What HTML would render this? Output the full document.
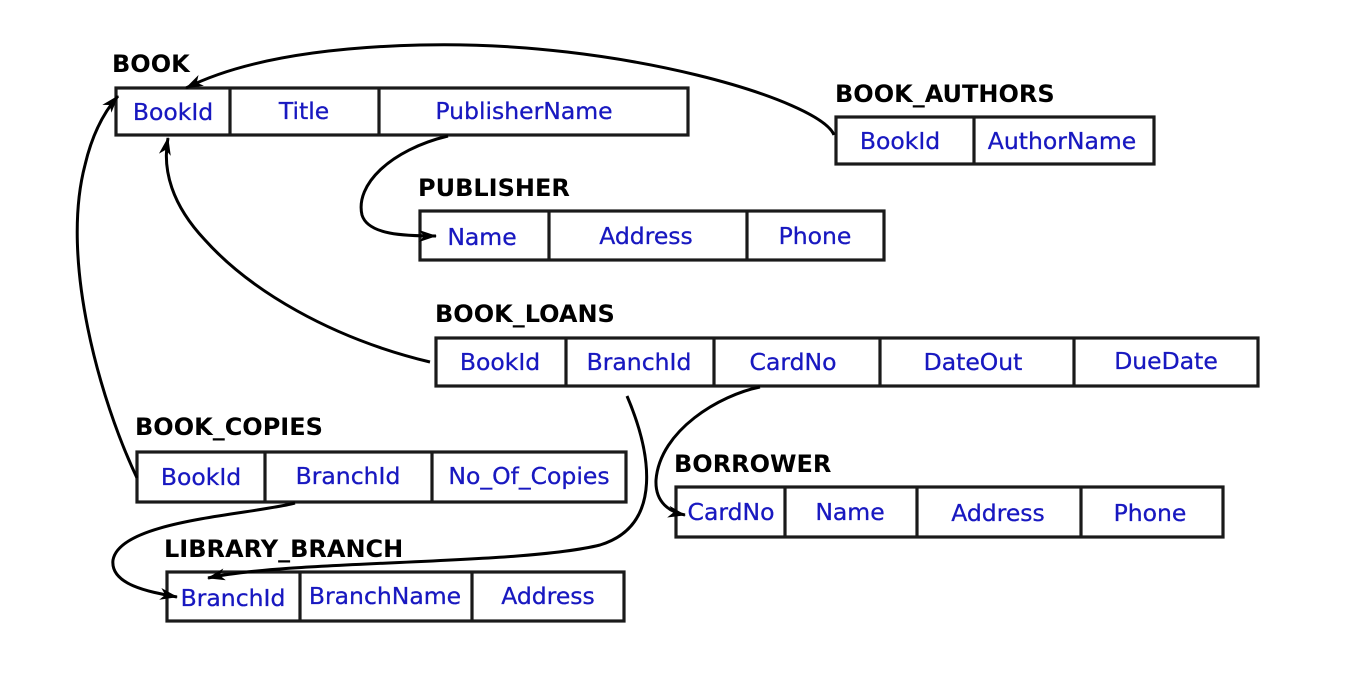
<!DOCTYPE html>
<html><head><meta charset="utf-8"><style>
html,body{margin:0;padding:0;background:#fff;}
svg{display:block;}
.lbl{font-family:"DejaVu Sans","Liberation Sans",sans-serif;font-weight:bold;font-size:24px;fill:#000;}
.c{font-family:"DejaVu Sans","Liberation Sans",sans-serif;font-size:23.5px;fill:#1818c0;text-anchor:middle;stroke:#1818c0;stroke-width:0.3;}
.b{fill:#fff;stroke:#1a1a1a;stroke-width:3.2;}
.l{stroke:#1a1a1a;stroke-width:3.2;}
.p{fill:none;stroke:#000;stroke-width:3;}
</style></head><body>
<svg width="1350" height="684" viewBox="0 0 1350 684" xmlns="http://www.w3.org/2000/svg">
<defs><marker id="a" viewBox="0 0 18 12" refX="17" refY="6" markerWidth="18" markerHeight="12" orient="auto" markerUnits="userSpaceOnUse"><path d="M0,0 L18,6 L0,12 L5,6 z" fill="#000"/></marker></defs>

<text class="lbl" x="112" y="72">BOOK</text>
<rect class="b" x="116" y="88" width="572" height="47"/>
<line class="l" x1="230" y1="88" x2="230" y2="135"/><line class="l" x1="379" y1="88" x2="379" y2="135"/>
<text class="c" x="173" y="120">BookId</text><text class="c" x="304" y="119">Title</text><text class="c" x="524" y="119">PublisherName</text>

<text class="lbl" x="835" y="102">BOOK_AUTHORS</text>
<rect class="b" x="836" y="117" width="318" height="47"/>
<line class="l" x1="974" y1="117" x2="974" y2="164"/>
<text class="c" x="900" y="149">BookId</text><text class="c" x="1062" y="149">AuthorName</text>

<text class="lbl" x="418" y="196">PUBLISHER</text>
<rect class="b" x="420" y="211" width="464" height="49"/>
<line class="l" x1="549" y1="211" x2="549" y2="260"/><line class="l" x1="747" y1="211" x2="747" y2="260"/>
<text class="c" x="482" y="245">Name</text><text class="c" x="646" y="244">Address</text><text class="c" x="815" y="244">Phone</text>

<text class="lbl" x="435" y="322">BOOK_LOANS</text>
<rect class="b" x="436" y="338" width="822" height="48"/>
<line class="l" x1="566" y1="338" x2="566" y2="386"/><line class="l" x1="714" y1="338" x2="714" y2="386"/><line class="l" x1="880" y1="338" x2="880" y2="386"/><line class="l" x1="1074" y1="338" x2="1074" y2="386"/>
<text class="c" x="500" y="370">BookId</text><text class="c" x="639" y="370">BranchId</text><text class="c" x="793" y="370">CardNo</text><text class="c" x="973" y="370">DateOut</text><text class="c" x="1166" y="369">DueDate</text>

<text class="lbl" x="135" y="435">BOOK_COPIES</text>
<rect class="b" x="137" y="452" width="489" height="50"/>
<line class="l" x1="265" y1="452" x2="265" y2="502"/><line class="l" x1="432" y1="452" x2="432" y2="502"/>
<text class="c" x="201" y="485">BookId</text><text class="c" x="348" y="484">BranchId</text><text class="c" x="529" y="484">No_Of_Copies</text>

<text class="lbl" x="674" y="472">BORROWER</text>
<rect class="b" x="676" y="487" width="547" height="50"/>
<line class="l" x1="785" y1="487" x2="785" y2="537"/><line class="l" x1="917" y1="487" x2="917" y2="537"/><line class="l" x1="1081" y1="487" x2="1081" y2="537"/>
<text class="c" x="731" y="520">CardNo</text><text class="c" x="850" y="520">Name</text><text class="c" x="998" y="521">Address</text><text class="c" x="1150" y="521">Phone</text>

<text class="lbl" x="164" y="557">LIBRARY_BRANCH</text>
<rect class="b" x="167" y="572" width="457" height="49"/>
<line class="l" x1="300" y1="572" x2="300" y2="621"/><line class="l" x1="472" y1="572" x2="472" y2="621"/>
<text class="c" x="233" y="606">BranchId</text><text class="c" x="385" y="604">BranchName</text><text class="c" x="548" y="604">Address</text>

<path class="p" marker-end="url(#a)" d="M834,135 C820,100 620,40 420,45 C300,48 230,66 186,88"/>
<path class="p" marker-end="url(#a)" d="M448,136 C390,150 355,185 362,215 C368,235 405,236 436,236"/>
<path class="p" marker-end="url(#a)" d="M430,362 C330,338 250,290 205,240 C172,205 162,170 168,138"/>
<path class="p" marker-end="url(#a)" d="M137,478 C100,400 60,260 85,165 C92,135 104,112 118,96"/>
<path class="p" marker-end="url(#a)" d="M295,503 C250,515 120,520 113,560 C110,585 150,592 177,597"/>
<path class="p" marker-end="url(#a)" d="M627,396 C650,450 665,525 600,545 C520,565 290,560 208,578"/>
<path class="p" marker-end="url(#a)" d="M760,387 C720,395 660,430 656,480 C655,503 670,512 685,515"/>
</svg>
</body></html>
